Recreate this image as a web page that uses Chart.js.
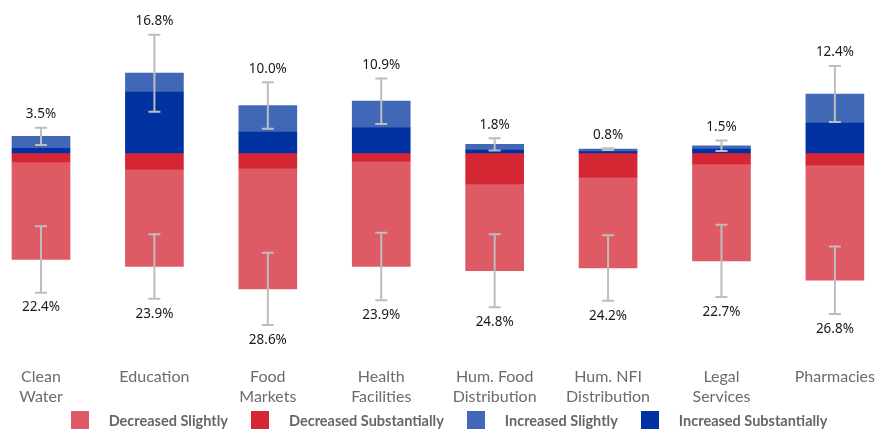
<!DOCTYPE html>
<html>
<head>
<meta charset="utf-8">
<script src="https://cdn.jsdelivr.net/npm/chart.js@4/dist/chart.umd.min.js"></script>
<style>
  body { margin: 0; background: #fff; }
  #wrap { position: relative; width: 880px; height: 429px; overflow: hidden; }
  #chart { position: absolute; left: 0; top: 0; }
  #legend {
    position: absolute; left: 0; top: 411px; width: 880px; padding-left: 18px; box-sizing: border-box;
    display: flex; justify-content: center; align-items: center;
    font-family: "Lato", sans-serif; font-weight: bold; font-size: 14.5px; color: #666;
  }
  .item { display: flex; align-items: center; margin-right: 23px; }
  .item:last-child { margin-right: 0; }
  .box { width: 18px; height: 18px; margin-right: 20px; }
</style>
</head>
<body>
<div id="wrap">
  <canvas id="chart" width="880" height="412"></canvas>
  <div id="legend"></div>
</div>
<script>
const categories = [
  ["Clean", "Water"], "Education", ["Food", "Markets"], ["Health", "Facilities"],
  ["Hum. Food", "Distribution"], ["Hum. NFI", "Distribution"], ["Legal", "Services"], "Pharmacies",
];

// values in percent
const increasedSubstantially = [1.0, 12.8, 4.4, 5.3, 0.6, 0.3, 0.8, 6.3];
const increasedSlightly = [2.5, 4.0, 5.6, 5.6, 1.2, 0.5, 0.7, 6.1];
const decreasedSubstantially = [1.9, 3.4, 3.2, 1.7, 6.5, 5.1, 2.3, 2.5];
const decreasedSlightly = [20.5, 20.5, 25.4, 22.2, 18.3, 19.1, 20.4, 24.3];

const increasedTotal = [3.5, 16.8, 10.0, 10.9, 1.8, 0.8, 1.5, 12.4];
const decreasedTotal = [22.4, 23.9, 28.6, 23.9, 24.8, 24.2, 22.7, 26.8];
const increasedError = [1.8, 8.1, 4.9, 4.8, 1.3, 0.2, 1.1, 5.9];
const decreasedError = [7.0, 6.8, 7.6, 7.1, 7.7, 6.9, 7.6, 7.1];

const colors = {
  decSlight: "#DE5B65",
  decSub: "#D42733",
  incSlight: "#4168B7",
  incSub: "#0033A1",
};

// error bars + total labels
const errorBars = {
  id: "errorBars",
  afterDatasetsDraw(chart) {
    const ctx = chart.ctx;
    const x = chart.scales.x;
    const y = chart.scales.y;
    ctx.save();
    categories.forEach((c, i) => {
      const cx = x.getPixelForValue(i);
      const up = y.getPixelForValue(increasedTotal[i]);
      const upA = y.getPixelForValue(increasedTotal[i] + increasedError[i]);
      const upB = y.getPixelForValue(increasedTotal[i] - increasedError[i]);
      const dn = -decreasedTotal[i];
      const dnA = y.getPixelForValue(dn + decreasedError[i]);
      const dnB = y.getPixelForValue(dn - decreasedError[i]);

      ctx.strokeStyle = "#BDBDBD";
      ctx.lineWidth = 2;
      [[upA, upB], [dnA, dnB]].forEach(([a, b]) => {
        ctx.beginPath();
        ctx.moveTo(cx, a); ctx.lineTo(cx, b);
        ctx.moveTo(cx - 6, a); ctx.lineTo(cx + 6, a);
        ctx.moveTo(cx - 6, b); ctx.lineTo(cx + 6, b);
        ctx.stroke();
      });

      ctx.fillStyle = "#1a1a1a";
      ctx.font = "13.5px 'Noto Sans', sans-serif";
      ctx.textAlign = "center";
      ctx.textBaseline = "middle";
      ctx.fillText(increasedTotal[i].toFixed(1) + "%", cx, Math.min(upA, up) - 13.5);
      ctx.fillText(decreasedTotal[i].toFixed(1) + "%", cx, dnB + 15);
    });
    ctx.restore();
  },
};

const datasets = [
  { label: "Increased Substantially", data: increasedSubstantially, backgroundColor: colors.incSub },
  { label: "Increased Slightly", data: increasedSlightly, backgroundColor: colors.incSlight },
  { label: "Decreased Substantially", data: decreasedSubstantially.map((v) => -v), backgroundColor: colors.decSub },
  { label: "Decreased Slightly", data: decreasedSlightly.map((v) => -v), backgroundColor: colors.decSlight },
];
datasets.forEach((d) => {
  d.barThickness = 58;
  d.clip = false;
  d.borderWidth = 0;
});

new Chart(document.getElementById("chart"), {
  type: "bar",
  data: { labels: categories, datasets: datasets },
  plugins: [errorBars],
  options: {
    responsive: false,
    animation: false,
    layout: { padding: { left: 41, right: 40, top: 0, bottom: 0 } },
    plugins: { legend: { display: false }, tooltip: { enabled: false } },
    scales: {
      x: {
        stacked: true,
        offset: false,
        grid: { display: false, drawTicks: false },
        border: { display: false },
        ticks: {
          padding: 5,
          color: "#6b6b6b",
          maxRotation: 0,
          autoSkip: false,
          font: { family: "Lato", size: 16, lineHeight: 1.25 },
        },
      },
      y: {
        stacked: true,
        display: false,
        min: -44,
        max: 32.2,
      },
    },
  },
});

// legend in the picture's order
const legendOrder = [
  ["Decreased Slightly", colors.decSlight],
  ["Decreased Substantially", colors.decSub],
  ["Increased Slightly", colors.incSlight],
  ["Increased Substantially", colors.incSub],
];
const legend = document.getElementById("legend");
legendOrder.forEach(([name, color]) => {
  const item = document.createElement("div");
  item.className = "item";
  item.innerHTML = `<span class="box" style="background:${color}"></span><span>${name}</span>`;
  legend.appendChild(item);
});
</script>
</body>
</html>
